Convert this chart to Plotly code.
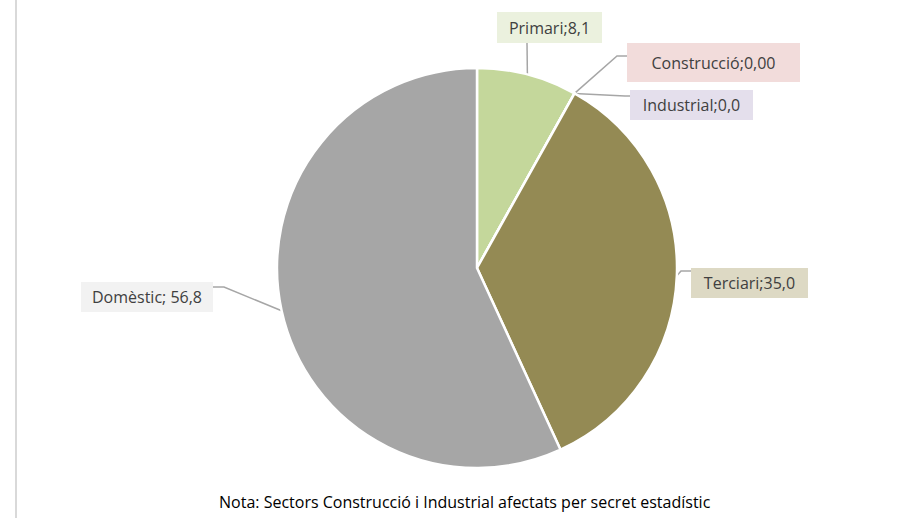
import math
import plotly.graph_objects as go

# ---- data ----
sectors = ["Primari", "Construcció", "Industrial", "Terciari", "Domèstic"]
values = [8.1, 0.0, 0.0, 35.0, 56.8]
decimals = [1, 2, 1, 1, 1]
separators = [";", ";", ";", ";", "; "]
note = "Nota: Sectors Construcció i Industrial afectats per secret estadístic"

# ---- style ----
W, H = 916, 518
FONT = "'Open Sans', sans-serif"
slice_colors = ["#c4d79b", "#e6b9b8", "#b3a2c7", "#948a54", "#a6a6a6"]
box_colors = ["#ebf1de", "#f2dcdb", "#e4dfec", "#ddd9c4", "#f2f2f2"]
CX, CY, R = 477, 268, 200  # pie centre / radius in pixels

def px(x):
    return x / W

def py(y):
    return 1 - y / H

fig = go.Figure(go.Pie(
    labels=sectors, values=values, sort=False, direction="clockwise", rotation=0,
    marker=dict(colors=slice_colors, line=dict(color="white", width=2.5)),
    textinfo="none", hoverinfo="label+value", showlegend=False,
    domain=dict(x=[px(CX - R), px(CX + R)], y=[py(CY + R), py(CY - R)]),
))

# label boxes: centre (px), width, height
box_layout = [
    (549.5, 27.5, 105, 31),
    (713.5, 62.5, 173, 39),
    (691.5, 105.0, 123, 30),
    (749.5, 283.0, 117, 30),
    (147.0, 297.0, 132, 30),
]
# leader line elbows (px) and label attach points
leader_route = [
    [(527, 43)],
    [(617, 56), (627, 56)],
    [(625, 96), (630, 96)],
    [(681, 271), (691, 271)],
    [(224, 287), (213, 287)],
]

total = sum(values)
cum = 0.0
annotations = []
shapes = []
for i, (name, v) in enumerate(zip(sectors, values)):
    mid = (cum + v / 2) / total * 2 * math.pi
    cum += v
    ex = CX + R * math.sin(mid)
    ey = CY - R * math.cos(mid)
    txt = f"{name}{separators[i]}{v:.{decimals[i]}f}".replace(".", ",")
    bx, by, bw, bh = box_layout[i]
    annotations.append(dict(
        x=px(bx), y=py(by), xref="paper", yref="paper", text=txt, showarrow=False,
        xanchor="center", yanchor="middle", width=bw, height=bh,
        bgcolor=box_colors[i], borderwidth=0, borderpad=0,
        font=dict(family=FONT, size=16, color="#404040"),
    ))
    pts = [(ex, ey)] + leader_route[i]
    path = "M " + " L ".join(f"{px(x)},{py(y)}" for x, y in pts)
    shapes.append(dict(type="path", xref="paper", yref="paper", path=path,
                       line=dict(color="#a6a6a6", width=1.5), layer="below"))

annotations.append(dict(
    x=px(465), y=py(502), xref="paper", yref="paper", text=note, showarrow=False,
    xanchor="center", yanchor="middle",
    font=dict(family=FONT, size=16, color="#000000"),
))
shapes.append(dict(type="line", xref="paper", yref="paper",
                   x0=px(16), x1=px(16), y0=0, y1=1,
                   line=dict(color="#d9d9d9", width=2)))

fig.update_layout(
    width=W, height=H, margin=dict(l=0, r=0, t=0, b=0),
    paper_bgcolor="white", plot_bgcolor="white",
    annotations=annotations, shapes=shapes,
)
fig.write_html("out.html", config={"displayModeBar": False},
               post_script="document.body.style.margin='0';document.body.style.overflow='hidden';")
